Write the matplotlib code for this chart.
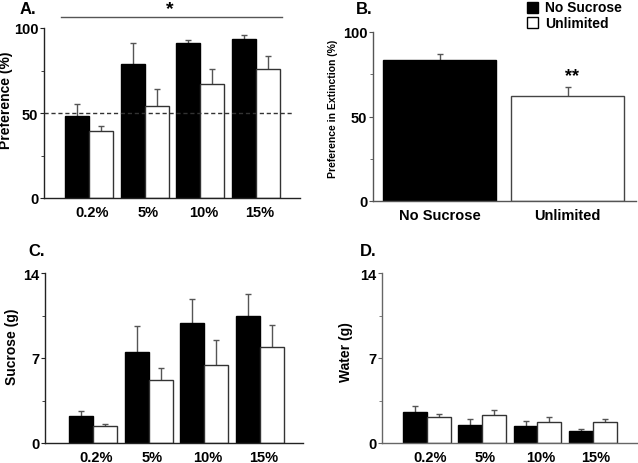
import matplotlib
matplotlib.use("Agg")
import matplotlib.pyplot as plt
from matplotlib.patches import Rectangle
import numpy as np

plt.rcParams['font.family'] = ['Liberation Sans', 'DejaVu Sans']
plt.rcParams['font.weight'] = 'bold'
plt.rcParams['axes.labelweight'] = 'bold'

# data
concs = ['0.2%', '5%', '10%', '15%']
groups = ['No Sucrose', 'Unlimited']

pref_nosuc = [48.2, 78.8, 91.0, 93.6]
pref_nosuc_err = [7.0, 12.2, 2.0, 2.0]
pref_unlim = [39.6, 54.3, 66.9, 75.7]
pref_unlim_err = [2.5, 10.0, 8.8, 7.8]

ext_means = [83.4, 62.0]
ext_err = [3.4, 5.3]

suc_nosuc = [2.2, 7.5, 9.9, 10.5]
suc_nosuc_err = [0.45, 2.1, 1.95, 1.8]
suc_unlim = [1.37, 5.2, 6.4, 7.9]
suc_unlim_err = [0.17, 1.0, 2.05, 1.8]

wat_nosuc = [2.58, 1.48, 1.40, 0.96]
wat_nosuc_err = [0.44, 0.47, 0.39, 0.22]
wat_unlim = [2.12, 2.33, 1.70, 1.70]
wat_unlim_err = [0.24, 0.39, 0.42, 0.28]

W, H = 638, 464
fig = plt.figure(figsize=(W / 100, H / 100), dpi=100)


def px_axes(left, right, y0, ytop):
    return fig.add_axes([left / W, (H - y0) / H, (right - left) / W, (y0 - ytop) / H])


def style(ax, spcol):
    for s in ['top', 'right']:
        ax.spines[s].set_visible(False)
    for s in ['left', 'bottom']:
        ax.spines[s].set_color(spcol)
        ax.spines[s].set_linewidth(1.0)
    ax.tick_params(axis='y', which='major', direction='out', length=3, pad=1,
                   labelsize=10.5, color=spcol)
    ax.tick_params(axis='y', which='minor', direction='out', length=2, color=spcol)
    ax.tick_params(axis='x', length=0, labelsize=10.5, pad=5)


def up_err(ax, x, y, e):
    zeros = np.zeros(len(y))
    _, caps, _ = ax.errorbar(x, y, yerr=[zeros, e], fmt='none', ecolor='#555555',
                             elinewidth=1, capsize=2.2, capthick=1, zorder=1)
    caps[0].set_visible(False)


def grouped(ax, a, ae, b, be, w=0.43):
    idx = np.arange(len(concs))
    ax.bar(idx - w / 2, a, w, color='black', edgecolor='black', linewidth=1, zorder=2)
    ax.bar(idx + w / 2, b, w, color='white', edgecolor='#333333', linewidth=1, zorder=2)
    up_err(ax, idx - w / 2, a, ae)
    up_err(ax, idx + w / 2, b, be)
    ax.set_xticks(idx + 0.06)
    ax.set_xticklabels(concs, fontweight='bold')
    return idx


def yticks(ax, major, minor):
    ax.set_yticks(major)
    ax.set_yticklabels([str(v) for v in major], fontweight='bold')
    ax.set_yticks(minor, minor=True)


# A. preference
axA = px_axes(44, 300, 199, 29)
grouped(axA, pref_nosuc, pref_nosuc_err, pref_unlim, pref_unlim_err)
axA.set_xlim(-0.81, 3.79)
axA.set_ylim(0, 100)
yticks(axA, [0, 50, 100], [25, 75])
axA.plot([-0.81, 3.65], [50, 50], ls=(0, (3, 2)), color='#333333', lw=1, zorder=3)
axA.plot([-0.50, 3.47], [106.5, 106.5], color='#555555', lw=1, clip_on=False)
axA.text(1.455, 111.5, '*', ha='center', va='center', fontsize=14, fontweight='bold')
axA.set_ylabel('Preference (%)', fontsize=10, fontweight='bold')
axA.yaxis.set_label_coords(-0.121, 0.58)
style(axA, '#222222')

# B. preference in extinction
axB = px_axes(373, 636, 202, 33)
xb = np.arange(len(groups))
axB.bar(xb, ext_means, 0.88, color=['black', 'white'], edgecolor=['black', '#444444'],
        linewidth=1, zorder=2)
up_err(axB, xb, ext_means, ext_err)
axB.set_xlim(-0.52, 1.535)
axB.set_ylim(0, 100)
yticks(axB, [0, 50, 100], [25, 75])
axB.set_xticks(xb)
axB.set_xticklabels(groups, fontweight='bold')
axB.text(1.035, 74, '**', ha='center', va='center', fontsize=13, fontweight='bold')
axB.set_ylabel('Preference in Extinction (%)', fontsize=7.5, fontweight='bold')
axB.yaxis.set_label_coords(-0.133, 0.553)
style(axB, '#555555')

# C. sucrose intake
axC = px_axes(45, 303, 444, 274)
grouped(axC, suc_nosuc, suc_nosuc_err, suc_unlim, suc_unlim_err)
axC.set_xlim(-0.86, 3.77)
axC.set_ylim(0, 14)
yticks(axC, [0, 7, 14], [3.5, 10.5])
axC.set_ylabel('Sucrose (g)', fontsize=10, fontweight='bold')
axC.yaxis.set_label_coords(-0.10, 0.57)
style(axC, '#222222')

# D. water intake
axD = px_axes(382, 637, 444, 274)
grouped(axD, wat_nosuc, wat_nosuc_err, wat_unlim, wat_unlim_err)
axD.set_xlim(-0.81, 3.8)
axD.set_ylim(0, 14)
yticks(axD, [0, 7, 14], [3.5, 10.5])
axD.set_ylabel('Water (g)', fontsize=10, fontweight='bold')
axD.yaxis.set_label_coords(-0.114, 0.54)
style(axD, '#666666')

# panel letters
for lab, x, y in [('A.', 20, 9), ('B.', 356, 9), ('C.', 28, 252), ('D.', 360, 252)]:
    fig.text(x / W, 1 - y / H, lab, fontsize=12, fontweight='bold', va='center', ha='left')

# legend
for i, (lab, fc) in enumerate(zip(groups, ['black', 'white'])):
    top = 3 + i * 15
    fig.add_artist(Rectangle((527 / W, 1 - (top + 11) / H), 11 / W, 11 / H,
                             transform=fig.transFigure, facecolor=fc,
                             edgecolor='black', linewidth=1))
    fig.text(545 / W, 1 - (top + 5.5) / H, lab, fontsize=10, fontweight='bold',
             va='center', ha='left')

fig.savefig('out.png', dpi=100)
